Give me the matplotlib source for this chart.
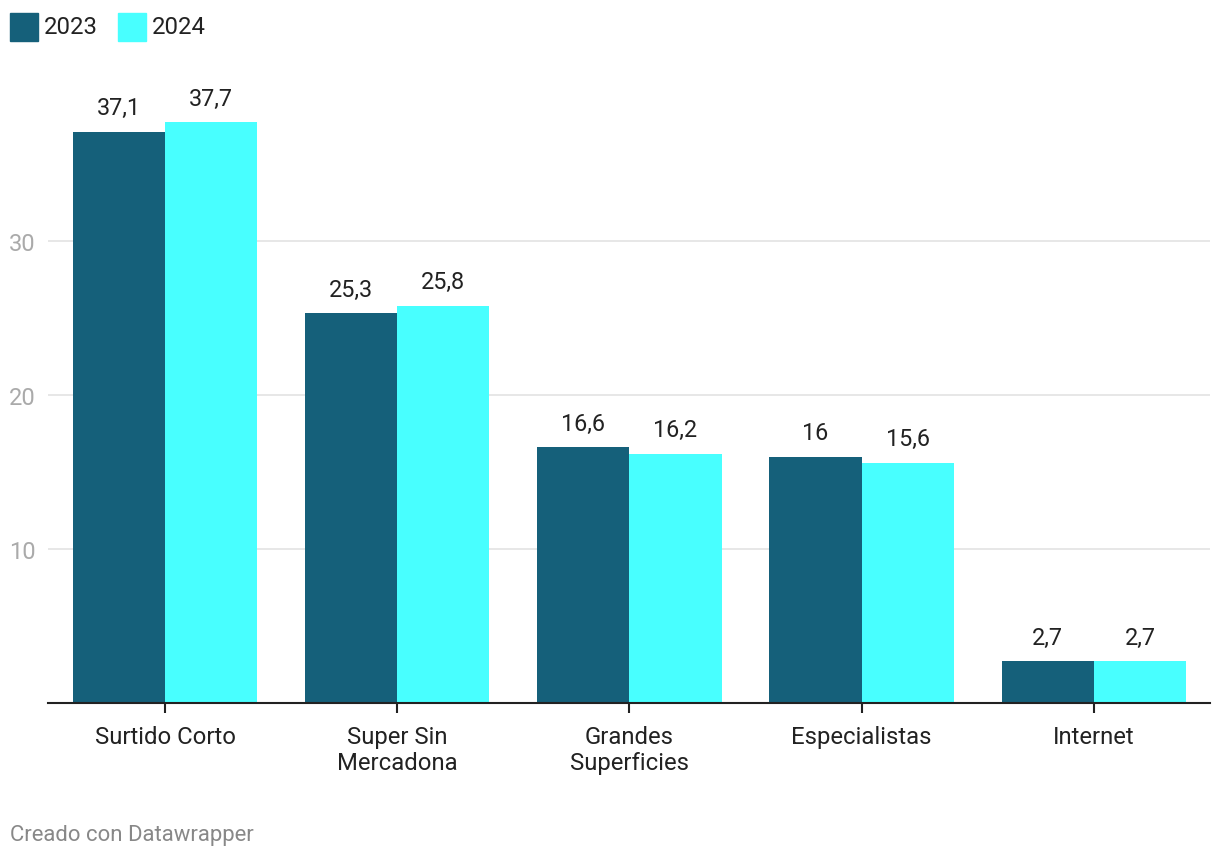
import numpy as np
import matplotlib.pyplot as plt
from matplotlib.patches import Rectangle

plt.rcParams['font.family'] = ['Roboto', 'DejaVu Sans']

categories = ['Surtido Corto', 'Super Sin\nMercadona', 'Grandes\nSuperficies', 'Especialistas', 'Internet']
values_2023 = [37.1, 25.3, 16.6, 16.0, 2.7]
values_2024 = [37.7, 25.8, 16.2, 15.6, 2.7]
labels_2023 = ['37,1', '25,3', '16,6', '16', '2,7']
labels_2024 = ['37,7', '25,8', '16,2', '15,6', '2,7']
yticks = [10, 20, 30]

c2023 = '#15607a'
c2024 = '#48ffff'

fig = plt.figure(figsize=(12.2, 8.62), dpi=100)
ax = fig.add_axes([48 / 1220, 158 / 862, 1162 / 1220, 616 / 862])

x = np.arange(len(categories))
w = 0.397
b1 = ax.bar(x - w / 2, values_2023, w, color=c2023, zorder=3)
b2 = ax.bar(x + w / 2, values_2024, w, color=c2024, zorder=3)

for bars, labs in ((b1, labels_2023), (b2, labels_2024)):
    for b, lab in zip(bars, labs):
        ax.annotate(lab, (b.get_x() + b.get_width() / 2, b.get_height()),
                    textcoords='offset points', xytext=(0, 9),
                    ha='center', va='bottom', fontsize=16.8, color='#222222')

ax.set_xlim(-0.504, 4.5)
ax.set_ylim(0, 40)
ax.set_yticks(yticks)
ax.set_yticklabels([str(t) for t in yticks])
ax.tick_params(axis='y', length=0, pad=9, labelsize=17, labelcolor='#aaaaaa')
ax.set_xticks(x)
ax.set_xticklabels(categories, fontsize=17.2, color='#222222', linespacing=1.22)
ax.tick_params(axis='x', length=7, width=1.5, color='#222222', pad=8.5)
ax.grid(axis='y', color='#e5e5e5', linewidth=1.3, zorder=0)

for s in ('top', 'right', 'left'):
    ax.spines[s].set_visible(False)
ax.spines['bottom'].set_color('#222222')
ax.spines['bottom'].set_linewidth(1.5)
ax.spines['bottom'].set_zorder(4)

# legend drawn by hand, datawrapper style
for xi, col, lab in ((10, c2023, '2023'), (118, c2024, '2024')):
    fig.patches.append(Rectangle((xi / 1220, 1 - 42 / 862), 28 / 1220, 28 / 862,
                                 transform=fig.transFigure, color=col))
    fig.text((xi + 34) / 1220, 1 - 27 / 862, lab, fontsize=17.2, color='#222222', va='center')

fig.text(10 / 1220, 1 - 836 / 862, 'Creado con Datawrapper', fontsize=15.9, color='#888888', va='center')

plt.savefig('out.png', dpi=100)
